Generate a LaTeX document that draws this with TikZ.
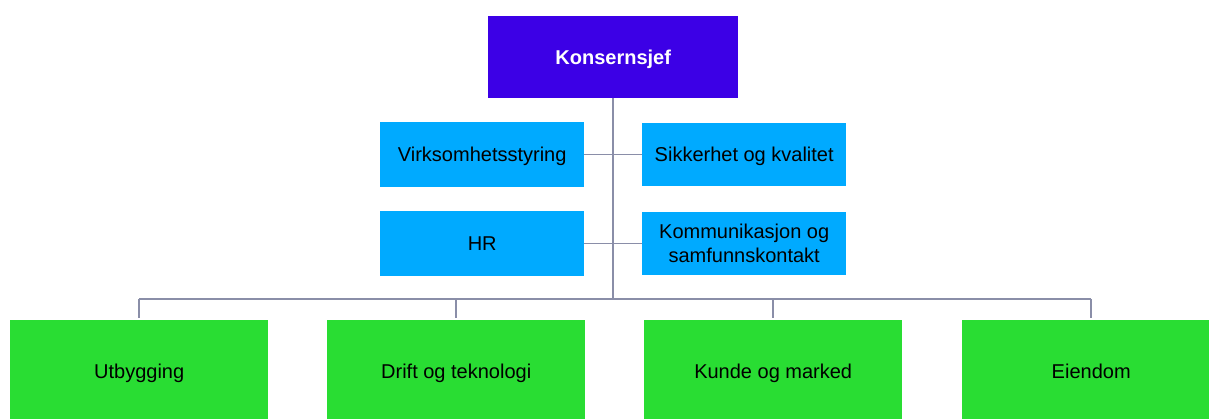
\documentclass[tikz,border=0pt]{standalone}
\usepackage{fontspec}
\setmainfont{Liberation Sans}
\definecolor{ceo}{HTML}{3C00E6}
\definecolor{staff}{HTML}{00AAFF}
\definecolor{unit}{HTML}{29DD33}
\definecolor{conn}{HTML}{8A8EA8}
\begin{document}
\begin{tikzpicture}[x=1pt,y=-1pt,
  box/.style={anchor=north west, inner sep=0pt, align=center, text=black,
    font=\fontsize{20}{24}\selectfont},
  oneline/.style={text height=14.3pt, text depth=0pt},
  ceobox/.style={box, oneline, fill=ceo, text=white, minimum width=250pt, minimum height=82pt,
    font=\fontsize{20}{24}\selectfont\bfseries},
  staffbox/.style={box, fill=staff, minimum width=204pt},
  unitbox/.style={box, oneline, fill=unit, minimum width=258pt, minimum height=102pt},
  link/.style={draw=conn, line width=1.6pt}]
\useasboundingbox (0,0) rectangle (1209,419);
\node[ceobox] (ceo) at (488,16) {Konsernsjef};
\node[staffbox, oneline, minimum height=65pt] (virk) at (380,122) {Virksomhetsstyring};
\node[staffbox, oneline, minimum height=63pt] (sikk) at (642,123) {Sikkerhet og kvalitet};
\node[staffbox, oneline, minimum height=65pt] (hr) at (380,211) {HR};
\node[staffbox, minimum height=63pt] (komm) at (642,212) {Kommunikasjon og\\samfunnskontakt};
\node[unitbox] (u1) at (10,320) {Utbygging};
\node[unitbox] (u2) at (327,320) {Drift og teknologi};
\node[unitbox] (u3) at (644,320) {Kunde og marked};
\node[unitbox] (u4) at (962,320) {Eiendom};
\coordinate (bus) at (613,299);
\draw[link] (ceo.south) -- (ceo.south |- bus);
\draw[link] (virk.east) -- (sikk.west);
\draw[link] (hr.east) -- (komm.west);
\draw[link] (u1.north |- bus) -- (u4.north |- bus);
\foreach \u in {u1,u2,u3,u4}
  \draw[link] (\u.north |- bus) -- ([yshift=2pt]\u.north);
\end{tikzpicture}
\end{document}
